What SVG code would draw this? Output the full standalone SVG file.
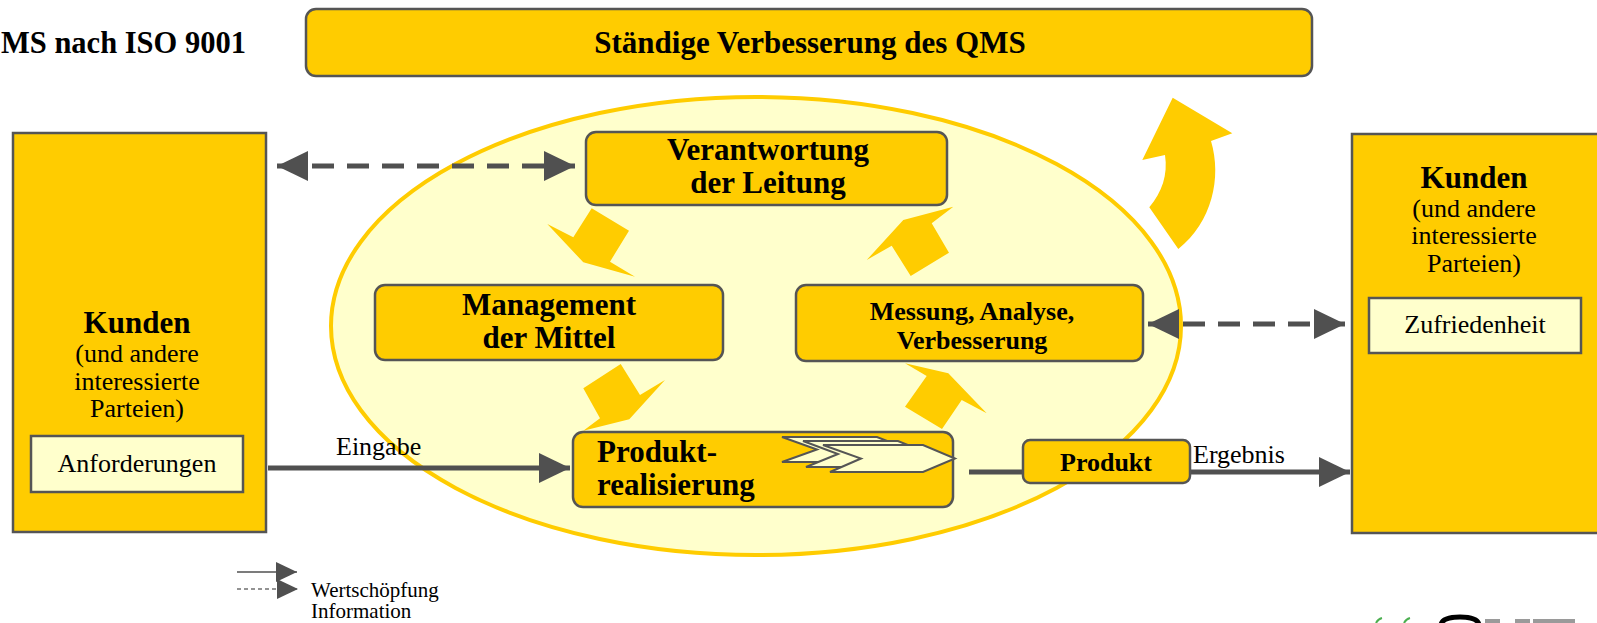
<svg xmlns="http://www.w3.org/2000/svg" width="1597" height="623" viewBox="0 0 1597 623">
<style>
.box{fill:#FFCC00;stroke:#555555;stroke-width:2.5}
.pale{fill:#FFFFCC;stroke:#555555;stroke-width:2.5}
.blk{fill:#FFCC00;stroke:none}
.t{font-family:"Liberation Serif","Times New Roman",serif;fill:#000}
.b{font-weight:bold}
.big{font-size:31px}
.mid{font-size:26px}
.reg{font-size:26px}
.conn{stroke:#505050;stroke-width:5;fill:none}
.dash{stroke-dasharray:22 13}
.chev{fill:#FFFFCC;stroke:#555555;stroke-width:2}
</style>
<defs>
<marker id="ah" markerUnits="userSpaceOnUse" markerWidth="32" markerHeight="30" refX="31" refY="15" orient="auto-start-reverse">
<path d="M0,0 L31,15 L0,30 Z" fill="#505050"/>
</marker>
<marker id="ahs" markerUnits="userSpaceOnUse" markerWidth="22" markerHeight="20" refX="21" refY="10" orient="auto">
<path d="M0,0 L21,10 L0,20 Z" fill="#505050"/>
</marker>
</defs>
<rect width="1597" height="623" fill="#FFFFFF"/>

<g id="title">
<text class="t b" x="1" y="53" font-size="30.5">MS nach ISO 9001</text>
</g>

<g id="improvement">
<rect class="box" x="306" y="9" width="1006" height="67" rx="10"/>
<text class="t b big" x="810" y="53" text-anchor="middle">Ständige Verbesserung des QMS</text>
</g>

<g id="qms-ellipse">
<ellipse cx="756" cy="326" rx="425" ry="229" fill="#FFFFCC" stroke="#FFCC00" stroke-width="4"/>
</g>

<g id="cycle-arrows">
<polygon class="blk" points="591.7,208.3 629,230.7 610,261.7 635,276.7 583.3,262.3 547.3,224 573.3,237.3"/>
<polygon class="blk" points="953.3,206.7 903.3,220 866.7,260 891.7,245.7 910.7,276 949,252.7 931.7,223.3"/>
<polygon class="blk" points="620.7,364 640,395 665,380 629.3,419.3 583.3,430.7 600,418.3 583.3,388.3"/>
<polygon class="blk" points="905,363.3 948.3,373.3 986.7,413.3 961.7,400 942,429 905,406.7 926.7,376"/>
<path class="blk" d="M1172.7,97.7 L1232.3,133.3 L1211,141 C1222,178 1212,222 1178.3,249 L1149.3,207.3 C1162,192 1168,175 1165,155 L1142.3,160 Z"/>
</g>

<g id="kunden-links">
<rect class="box" x="13" y="133" width="253" height="399"/>
<text class="t b big" x="137" y="333" text-anchor="middle">Kunden</text>
<text class="t reg" x="137" y="362" text-anchor="middle">(und andere</text>
<text class="t reg" x="137" y="390" text-anchor="middle">interessierte</text>
<text class="t reg" x="137" y="417" text-anchor="middle">Parteien)</text>
<rect class="pale" x="31" y="436" width="212" height="56"/>
<text class="t reg" x="137" y="472" text-anchor="middle">Anforderungen</text>
</g>

<g id="kunden-rechts">
<rect class="box" x="1352" y="134" width="260" height="399"/>
<text class="t b big" x="1474" y="188" text-anchor="middle">Kunden</text>
<text class="t reg" x="1474" y="217" text-anchor="middle">(und andere</text>
<text class="t reg" x="1474" y="244" text-anchor="middle">interessierte</text>
<text class="t reg" x="1474" y="272" text-anchor="middle">Parteien)</text>
<rect class="pale" x="1369" y="298" width="212" height="55"/>
<text class="t reg" x="1475" y="333" text-anchor="middle">Zufriedenheit</text>
</g>

<g id="verantwortung">
<rect class="box" x="586" y="132" width="361" height="73" rx="10"/>
<text class="t b big" x="768" y="160" text-anchor="middle">Verantwortung</text>
<text class="t b big" x="768" y="193" text-anchor="middle">der Leitung</text>
</g>

<g id="management">
<rect class="box" x="375" y="285" width="348" height="75" rx="10"/>
<text class="t b big" x="549" y="315" text-anchor="middle">Management</text>
<text class="t b big" x="549" y="348" text-anchor="middle">der Mittel</text>
</g>

<g id="messung">
<rect class="box" x="796" y="285" width="347" height="76" rx="10"/>
<text class="t b mid" x="972" y="320" text-anchor="middle">Messung, Analyse,</text>
<text class="t b mid" x="972" y="349" text-anchor="middle">Verbesserung</text>
</g>

<g id="produktrealisierung">
<rect class="box" x="573" y="432" width="380" height="75" rx="10"/>
<text class="t b big" x="597" y="462">Produkt-</text>
<text class="t b big" x="597" y="495">realisierung</text>
<polygon class="chev" points="782,437 877,437 909,449.5 877,462 782,462 817,449.5"/>
<polygon class="chev" points="803,441 898,441 930,454 898,467 806,467 838,454"/>
<polygon class="chev" points="823,445 923,445 955,458.5 923,472 830,472 861,458.5"/>
</g>

<g id="connectors">
<line class="conn dash" x1="277" y1="166" x2="575" y2="166" marker-start="url(#ah)" marker-end="url(#ah)"/>
<line class="conn dash" x1="1148" y1="324" x2="1345" y2="324" marker-start="url(#ah)" marker-end="url(#ah)"/>
<line class="conn" x1="268" y1="468" x2="570" y2="468" marker-end="url(#ah)"/>
<line class="conn" x1="969" y1="472" x2="1023" y2="472"/>
<line class="conn" x1="1190" y1="472" x2="1350" y2="472" marker-end="url(#ah)"/>
<text class="t reg" x="336" y="455">Eingabe</text>
<text class="t reg" x="1193" y="463">Ergebnis</text>
</g>

<g id="produkt">
<rect class="box" x="1023" y="440" width="167" height="43" rx="7"/>
<text class="t b mid" x="1106" y="471" text-anchor="middle">Produkt</text>
</g>

<g id="legend">
<line x1="237" y1="572" x2="297" y2="572" stroke="#505050" stroke-width="1.5" marker-end="url(#ahs)"/>
<line x1="237" y1="589" x2="298" y2="589" stroke="#707070" stroke-width="1.5" stroke-dasharray="4 3" marker-end="url(#ahs)"/>
<text class="t" x="311" y="597" font-size="21">Wertschöpfung</text>
<text class="t" x="311" y="618" font-size="21">Information</text>
</g>

<g id="logo">
<path d="M1376,623 Q1378,619 1382,618" fill="none" stroke="#4CAF50" stroke-width="2"/>
<path d="M1404,623 Q1406,619 1410,618" fill="none" stroke="#4CAF50" stroke-width="2"/>
<path d="M1441,625 Q1442,617 1460,617 Q1478,617 1479,625" fill="none" stroke="#000" stroke-width="5"/>
<rect x="1485" y="619" width="15" height="4" fill="#9A9A9A"/>
<rect x="1515" y="619" width="15" height="4" fill="#9A9A9A"/>
<rect x="1533" y="619" width="42" height="4" fill="#9A9A9A"/>
</g>
</svg>
